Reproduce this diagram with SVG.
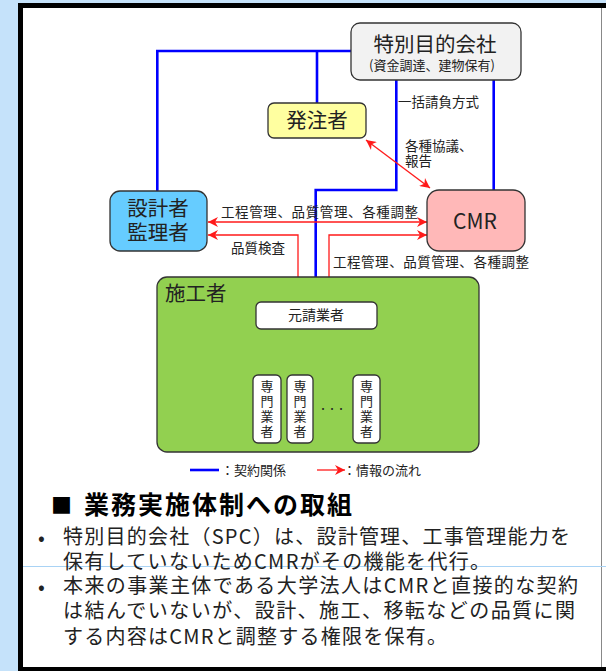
<svg xmlns="http://www.w3.org/2000/svg" width="606" height="671" viewBox="0 0 606 671">
<style>
text{font-family:"Noto Sans CJK JP","Noto Sans",sans-serif;fill:#222}
.node{stroke:#333;stroke-width:1.3}
.c{text-anchor:middle}
.blue{fill:none;stroke:#0000ff;stroke-width:2.6}
.red{fill:none;stroke:#ff1a1a;stroke-width:1.3}
.lbl{font-size:13.5px}
.body{font-size:20px}
.vt{font-size:13px;writing-mode:vertical-rl;letter-spacing:2px}
</style>
<defs>
<marker id="ah" viewBox="0 0 10 10" refX="10" refY="5" markerWidth="11" markerHeight="10" markerUnits="userSpaceOnUse" orient="auto-start-reverse">
<path d="M0,0 L10,5 L0,10 L3,5 z" fill="#ff1a1a"/>
</marker>
</defs>
<rect width="606" height="671" fill="#c5e2fa"/>
<rect x="18" y="3" width="588" height="668" fill="#fff"/>
<rect x="18" y="3" width="5" height="668" fill="#000"/>
<rect x="18" y="3" width="588" height="5" fill="#000"/>
<rect x="18" y="667" width="588" height="4" fill="#000"/>
<line x1="601.5" y1="8" x2="601.5" y2="667" stroke="#888" stroke-width="1"/>
<line x1="23" y1="566.5" x2="606" y2="566.5" stroke="#a9d3f5" stroke-width="1"/>

<g id="connectors">
<path class="blue" d="M351,51 H157.3 V191"/>
<path class="blue" d="M317,51 V103"/>
<path class="blue" d="M396.3,80 V190 H315.7 V302"/>
<path class="blue" d="M493.7,80 V190"/>
<path class="blue" d="M315.7,329 V351 M266.7,375 V351 H366.7 V375 M300,351 V375"/>
<path class="red" d="M366,140 L430,188" marker-start="url(#ah)" marker-end="url(#ah)"/>
<path class="red" d="M208,222 H427" marker-start="url(#ah)" marker-end="url(#ah)"/>
<path class="red" d="M208,235 H298 V301" marker-start="url(#ah)" marker-end="url(#ah)"/>
<path class="red" d="M427,235 H329 V301" marker-start="url(#ah)" marker-end="url(#ah)"/>
<text class="lbl" x="398" y="107">一括請負方式</text>
<text class="lbl"><tspan x="405" y="151">各種協議、</tspan><tspan x="405" y="166">報告</tspan></text>
<text class="lbl" x="221" y="217" textLength="197">工程管理、品質管理、各種調整</text>
<text class="lbl" x="231" y="253">品質検査</text>
<text class="lbl" x="333" y="267" textLength="196">工程管理、品質管理、各種調整</text>
</g>

<g id="spc">
<rect class="node" x="351" y="23" width="170" height="57" rx="9" fill="#f2f2f2"/>
<text class="c"><tspan x="435" y="52" font-size="20.5">特別目的会社</tspan><tspan x="432" y="70" font-size="13">(資金調達、建物保有)</tspan></text>
</g>
<g id="hatchusha">
<rect class="node" x="268" y="103" width="98" height="35" rx="6" fill="#ffffa0"/>
<text class="c" x="317" y="128" font-size="20.5">発注者</text>
</g>
<g id="sekkeisha">
<rect class="node" x="110" y="191" width="97" height="60" rx="10" fill="#66ccff"/>
<text class="c" font-size="20.5"><tspan x="158" y="216">設計者</tspan><tspan x="158" y="240">監理者</tspan></text>
</g>
<g id="cmr">
<rect class="node" x="427" y="190" width="98" height="61" rx="12" fill="#ffb8b8"/>
<text class="c" x="475" y="229" font-size="21">CMR</text>
</g>
<g id="sekosha">
<rect class="node" x="157" y="277" width="322" height="175" rx="10" fill="#92d050"/>
<text x="165" y="301" font-size="20.5">施工者</text>
</g>
<g id="motouke">
<rect class="node" x="256" y="302" width="121" height="27" rx="5" fill="#fff"/>
<text class="c" x="316" y="320" font-size="14">元請業者</text>
</g>
<g id="senmon1">
<rect class="node" x="253" y="375" width="28" height="68" rx="5" fill="#fff"/>
<text class="vt" x="267" y="380">専門業者</text>
</g>
<g id="senmon2">
<rect class="node" x="287" y="375" width="26" height="68" rx="5" fill="#fff"/>
<text class="vt" x="300" y="380">専門業者</text>
</g>
<g id="dots">
<text class="c" x="332" y="412" font-size="9">・・・</text>
</g>
<g id="senmon3">
<rect class="node" x="353" y="375" width="27" height="68" rx="5" fill="#fff"/>
<text class="vt" x="366.5" y="380">専門業者</text>
</g>

<g id="legend">
<line x1="190" y1="470" x2="219" y2="470" stroke="#0000ff" stroke-width="2.6"/>
<text x="221" y="475" font-size="13">：契約関係</text>
<line x1="317" y1="470" x2="345" y2="470" class="red" marker-end="url(#ah)"/>
<text x="343" y="475" font-size="13">：情報の流れ</text>
</g>

<g id="notes">
<text x="51" y="513" font-size="21" font-weight="700" style="fill:#000">■</text>
<text x="84" y="514" font-size="25" font-weight="700" letter-spacing="2" style="fill:#000">業務実施体制への取組</text>
<text class="body" font-size="22"><tspan x="38" y="545">•</tspan><tspan x="38" y="594">•</tspan></text>
<text class="body"><tspan x="63" y="544" textLength="507">特別目的会社（SPC）は、設計管理、工事管理能力を</tspan><tspan x="63" y="569" textLength="427">保有していないためCMRがその機能を代行。</tspan></text>
<text class="body"><tspan x="63" y="593" textLength="515">本来の事業主体である大学法人はCMRと直接的な契約</tspan><tspan x="63" y="618" textLength="512">は結んでいないが、設計、施工、移転などの品質に関</tspan><tspan x="63" y="644" textLength="384">する内容はCMRと調整する権限を保有。</tspan></text>
</g>
</svg>
